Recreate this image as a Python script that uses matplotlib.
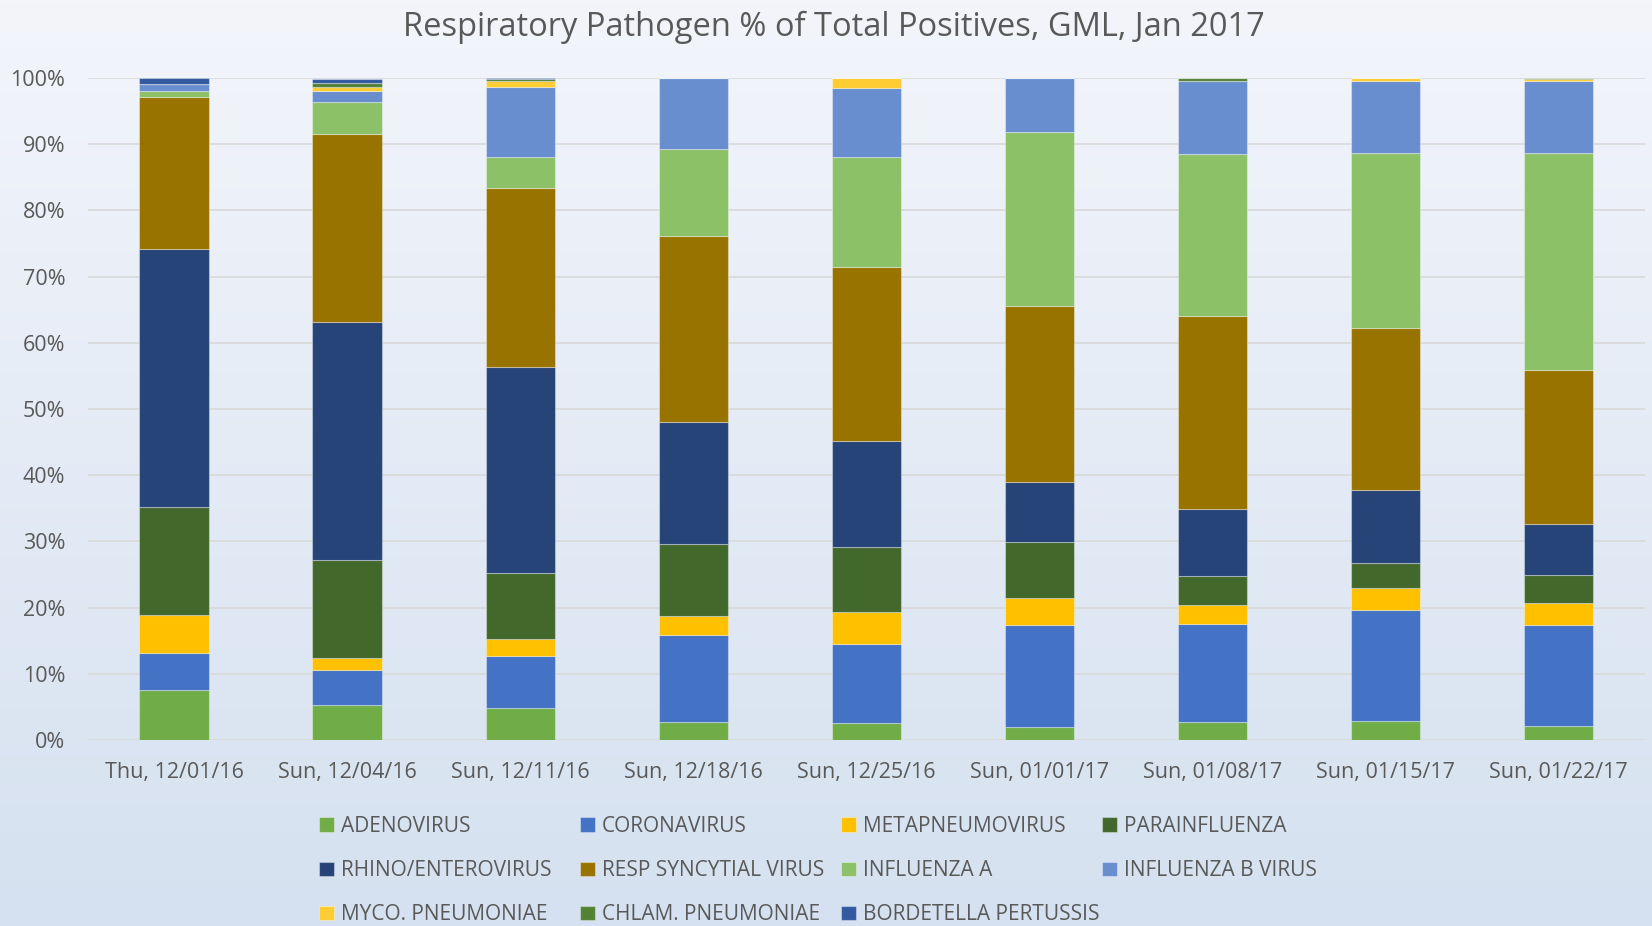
import numpy as np
import matplotlib
matplotlib.use("Agg")
import matplotlib.pyplot as plt
from matplotlib.ticker import PercentFormatter

categories = ["Thu, 12/01/16", "Sun, 12/04/16", "Sun, 12/11/16", "Sun, 12/18/16",
              "Sun, 12/25/16", "Sun, 01/01/17", "Sun, 01/08/17", "Sun, 01/15/17",
              "Sun, 01/22/17"]

adenovirus = [7.5, 5.3, 4.9, 2.7, 2.5, 1.9, 2.7, 2.9, 2.1]
coronavirus = [5.7, 5.2, 7.8, 13.2, 12.0, 15.5, 14.8, 16.7, 15.3]
metapneumovirus = [5.7, 1.9, 2.6, 2.9, 4.8, 4.1, 2.9, 3.3, 3.3]
parainfluenza = [16.3, 14.8, 10.0, 10.8, 9.8, 8.4, 4.4, 3.9, 4.3]
rhino_enterovirus = [39.0, 35.9, 31.1, 18.5, 16.1, 9.1, 10.1, 10.9, 7.6]
resp_syncytial = [22.9, 28.5, 27.0, 28.0, 26.3, 26.6, 29.1, 24.6, 23.3]
influenza_a = [1.0, 4.7, 4.7, 13.1, 16.6, 26.3, 24.5, 26.4, 32.8]
influenza_b = [0.95, 1.7, 10.5, 10.8, 10.45, 8.1, 11.1, 10.8, 10.8]
myco_pneumoniae = [0.0, 0.65, 0.9, 0.0, 1.45, 0.0, 0.0, 0.53, 0.3]
chlam_pneumoniae = [0.0, 0.6, 0.35, 0.0, 0.0, 0.0, 0.4, 0.0, 0.2]
bordetella = [0.95, 0.65, 0.2, 0.0, 0.0, 0.0, 0.0, 0.0, 0.0]

series_names = ["ADENOVIRUS", "CORONAVIRUS", "METAPNEUMOVIRUS", "PARAINFLUENZA",
                "RHINO/ENTEROVIRUS", "RESP SYNCYTIAL VIRUS", "INFLUENZA A",
                "INFLUENZA B VIRUS", "MYCO. PNEUMONIAE", "CHLAM. PNEUMONIAE",
                "BORDETELLA PERTUSSIS"]
series_values = [adenovirus, coronavirus, metapneumovirus, parainfluenza,
                 rhino_enterovirus, resp_syncytial, influenza_a, influenza_b,
                 myco_pneumoniae, chlam_pneumoniae, bordetella]
colors = ["#70AD47", "#4472C4", "#FFC000", "#43682B", "#264478", "#997300",
          "#8CC168", "#698ED0", "#FFCD33", "#548235", "#335AA1"]

plt.rcParams['font.family'] = ['Open Sans', 'DejaVu Sans']

W, H = 1652, 926
fig = plt.figure(figsize=(W / 100, H / 100), dpi=100)

# background gradient
bg = fig.add_axes([0, 0, 1, 1], zorder=-10)
top = np.array([243, 245, 251]) / 255
bot = np.array([213, 225, 240]) / 255
t = np.linspace(0, 1, 256)[:, None]
grad = top[None, :] * (1 - t) + bot[None, :] * t
bg.imshow(grad[:, None, :], aspect='auto', extent=[0, 1, 0, 1])
bg.set_axis_off()

ax = fig.add_axes([87.5 / W, 1 - 740 / H, (1645 - 87.5) / W, (740 - 78) / H])
ax.patch.set_alpha(0)

x = np.arange(len(categories))
bottom = np.zeros(len(categories))
handles = []
for name, vals, c in zip(series_names, series_values, colors):
    v = np.array(vals, dtype=float)
    b = ax.bar(x, v, 0.4, bottom=bottom, color=c, label=name,
               edgecolor=(1, 1, 1, 0.35), linewidth=0.8, zorder=3)
    handles.append(b)
    bottom += v

ax.set_xlim(-0.5, len(categories) - 0.5)
ax.set_ylim(0, 100)
ax.set_yticks(np.arange(0, 101, 10))
ax.yaxis.set_major_formatter(PercentFormatter(decimals=0))
ax.set_xticks(x)
ax.set_xticklabels(categories)
ax.grid(axis='y', color='#D9D9D9', linewidth=1.2, zorder=0)
for s in ax.spines.values():
    s.set_visible(False)
ax.tick_params(axis='both', length=0, colors='#595959', labelsize=15.5)
ax.tick_params(axis='x', pad=15.5)
ax.tick_params(axis='y', pad=16)

fig.text(834 / W, 1 - 27 / H, "Respiratory Pathogen % of Total Positives, GML, Jan 2017",
         ha='center', va='center', fontsize=23.5, color='#595959')

# legend: 4 columns, row-major order
col_x = [319, 580, 841, 1102]
for ci in range(4):
    idx = list(range(ci, len(handles), 4))
    fig.legend(handles=[handles[i] for i in idx], loc='upper left',
               bbox_to_anchor=(col_x[ci] / W, 1 - 816 / H),
               frameon=False, fontsize=15, labelcolor='#595959',
               handlelength=0.7, handleheight=0.7, handletextpad=0.35,
               labelspacing=1.11, borderaxespad=0, borderpad=0)

fig.savefig("out.png", dpi=100)
